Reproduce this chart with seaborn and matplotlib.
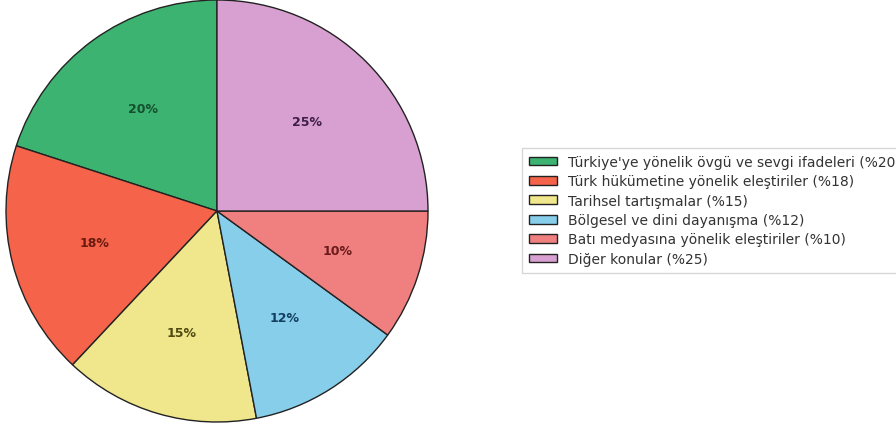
import matplotlib
matplotlib.use("Agg")
import matplotlib.pyplot as plt
import seaborn as sns

# Topic shares of the analysed posts
topics = [
    "Türkiye'ye yönelik övgü ve sevgi ifadeleri",
    "Türk hükümetine yönelik eleştiriler",
    "Tarihsel tartışmalar",
    "Bölgesel ve dini dayanışma",
    "Batı medyasına yönelik eleştiriler",
    "Diğer konular",
]
shares = [20, 18, 15, 12, 10, 25]
slice_colors = ["#3CB371", "#F5634A", "#F0E68C", "#87CEEB", "#F08080", "#D8A0D0"]
label_colors = ["#14502E", "#6B1A10", "#4E4A10", "#123F60", "#6B1A1A", "#3E1E46"]

sns.set_theme(style="white")
plt.rcParams["font.family"] = ["DejaVu Sans"]

W, H = 896, 427
fig = plt.figure(figsize=(W / 100, H / 100), dpi=100)
cx, cy, r = 217, 212, 211
ax = fig.add_axes([(cx - r) / W, (H - cy - r) / H, 2 * r / W, 2 * r / H])

palette = sns.color_palette(slice_colors)
wedges, texts, autotexts = ax.pie(
    shares,
    colors=palette,
    startangle=90,
    counterclock=True,
    autopct="%1.0f%%",
    pctdistance=0.6,
    wedgeprops=dict(edgecolor="#222222", linewidth=1.0),
    textprops=dict(fontsize=9, fontweight="bold"),
)
for t, c in zip(autotexts, label_colors):
    t.set_color(c)

ax.set_xlim(-1.0, 1.0)
ax.set_ylim(-1.0, 1.0)
ax.set_aspect("equal")

legend_labels = [f"{name} (%{v})" for name, v in zip(topics, shares)]
fig.legend(
    wedges,
    legend_labels,
    loc="center left",
    bbox_to_anchor=(515 / W, 0.505),
    fontsize=10,
    frameon=True,
    handlelength=2.0,
    handleheight=0.6,
    labelspacing=0.39,
    borderpad=0.5,
    fancybox=False,
    edgecolor="#CCCCCC",
)
for txt in fig.legends[0].get_texts():
    txt.set_color("#333333")

fig.savefig("out.png", dpi=100)
